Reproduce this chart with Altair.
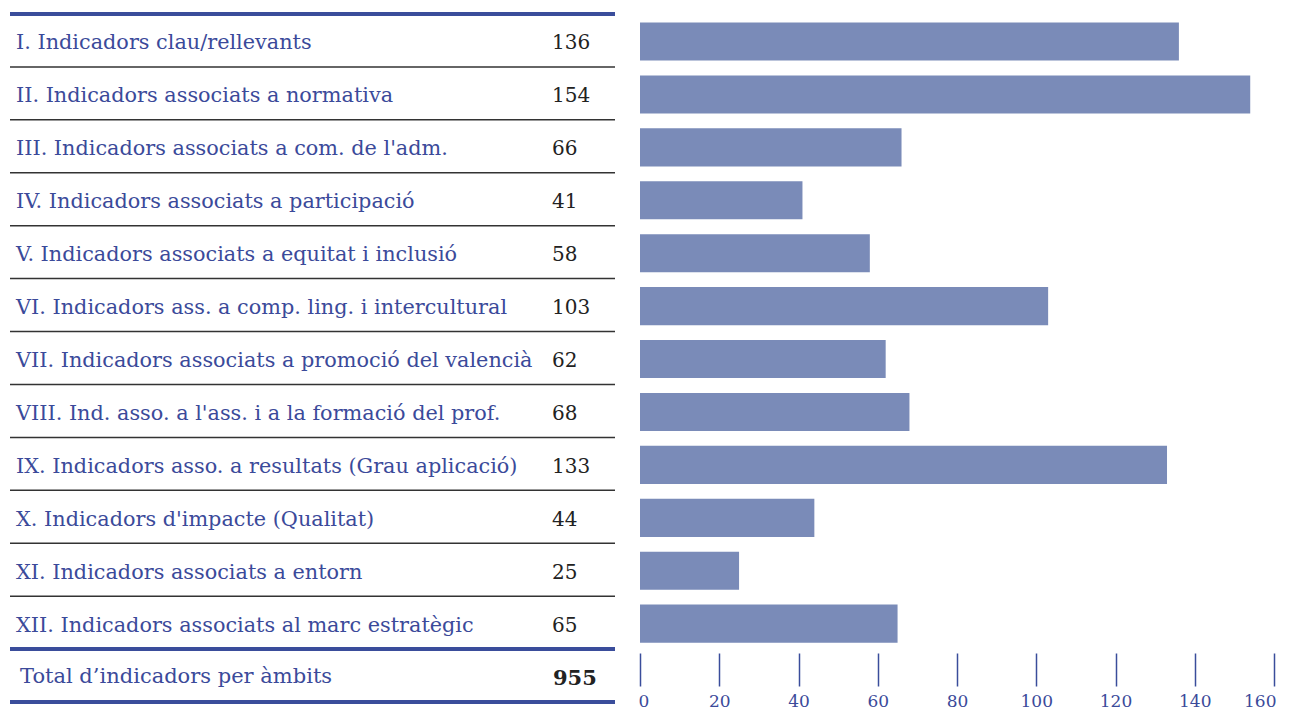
import altair as alt
import pandas as pd

categories = [
    "I. Indicadors clau/rellevants",
    "II. Indicadors associats a normativa",
    "III. Indicadors associats a com. de l'adm.",
    "IV. Indicadors associats a participació",
    "V. Indicadors associats a equitat i inclusió",
    "VI. Indicadors ass. a comp. ling. i intercultural",
    "VII. Indicadors associats a promoció del valencià",
    "VIII. Ind. asso. a l'ass. i a la formació del prof.",
    "IX. Indicadors asso. a resultats (Grau aplicació)",
    "X. Indicadors d'impacte (Qualitat)",
    "XI. Indicadors associats a entorn",
    "XII. Indicadors associats al marc estratègic",
]
values = [136, 154, 66, 41, 58, 103, 62, 68, 133, 44, 25, 65]
total_label = "Total d\u2019indicadors per àmbits"
total_value = 955
x_ticks = [0, 20, 40, 60, 80, 100, 120, 140, 160]

n = len(categories)
df = pd.DataFrame({"label": categories, "value": values, "idx": list(range(n))})
total_df = pd.DataFrame({"label": [total_label], "value": [total_value], "idx": [n]})
thin_df = pd.DataFrame({"b": list(range(1, n))})
thick_df = pd.DataFrame({"b": [0, n, n + 1]})

FONT = "DejaVu Serif"
BLUE_TEXT = "#3b4a9a"
BLUE_LINE = "#3a4d9b"
BAR = "#7a8bb8"
DARK = "#222222"

H = 688
LW = 605
RW = 634

yscale = alt.Scale(domain=[0, n + 1], reverse=True, nice=False, zero=False)

def yq(field):
    return alt.Y(field, type="quantitative", scale=yscale, axis=None)

thin = alt.Chart(thin_df).mark_rule(color="#333333", strokeWidth=1.5).encode(
    x=alt.value(0), x2=alt.value(LW), y=yq("b")
)
thick = alt.Chart(thick_df).mark_rule(color=BLUE_LINE, strokeWidth=4).encode(
    x=alt.value(0), x2=alt.value(LW), y=yq("b")
)
labels = alt.Chart(df).transform_calculate(yc="datum.idx + 0.5").mark_text(
    align="left", baseline="middle", font=FONT, fontSize=20.8, color=BLUE_TEXT, dy=3
).encode(x=alt.value(6), y=yq("yc"), text="label")
vals = alt.Chart(df).transform_calculate(yc="datum.idx + 0.5").mark_text(
    align="left", baseline="middle", font=FONT, fontSize=20, color=DARK, dy=3
).encode(x=alt.value(542), y=yq("yc"), text="value")
tlabel = alt.Chart(total_df).transform_calculate(yc="datum.idx + 0.5").mark_text(
    align="left", baseline="middle", font=FONT, fontSize=21, color=BLUE_TEXT, dy=1
).encode(x=alt.value(10), y=yq("yc"), text="label")
tval = alt.Chart(total_df).transform_calculate(yc="datum.idx + 0.5").mark_text(
    align="left", baseline="middle", font=FONT, fontSize=21, fontWeight="bold", color=DARK, dy=3
).encode(x=alt.value(543), y=yq("yc"), text="value")

left = alt.layer(thin, thick, labels, vals, tlabel, tval).properties(width=LW, height=H)

bars = alt.Chart(df).transform_calculate(
    y0="datum.idx + 0.16", y1="datum.idx + 0.88"
).mark_bar(color=BAR).encode(
    x=alt.X(
        "value:Q",
        scale=alt.Scale(domain=[0, 160], nice=False),
        axis=alt.Axis(
            values=x_ticks,
            title=None,
            orient="bottom",
            offset=-49,
            domain=False,
            grid=False,
            ticks=True,
            tickSize=33,
            tickColor=BLUE_LINE,
            tickWidth=1.5,
            labelColor=BLUE_TEXT,
            labelFont=FONT,
            labelFontSize=17,
            labelPadding=7,
            labelBaseline="top",
            labelFlush=True,
            labelFlushOffset=2,
        ),
    ),
    x2=alt.datum(0),
    y=yq("y0"),
    y2="y1:Q",
)
right = bars.properties(width=RW, height=H)

chart = alt.hconcat(left, right, spacing=21).properties(
    padding={"left": 0, "top": 4, "right": 0, "bottom": 0},
    background="white",
).configure_view(stroke=None)

chart.save("out.html", embed_options={"renderer": "svg", "actions": False})
